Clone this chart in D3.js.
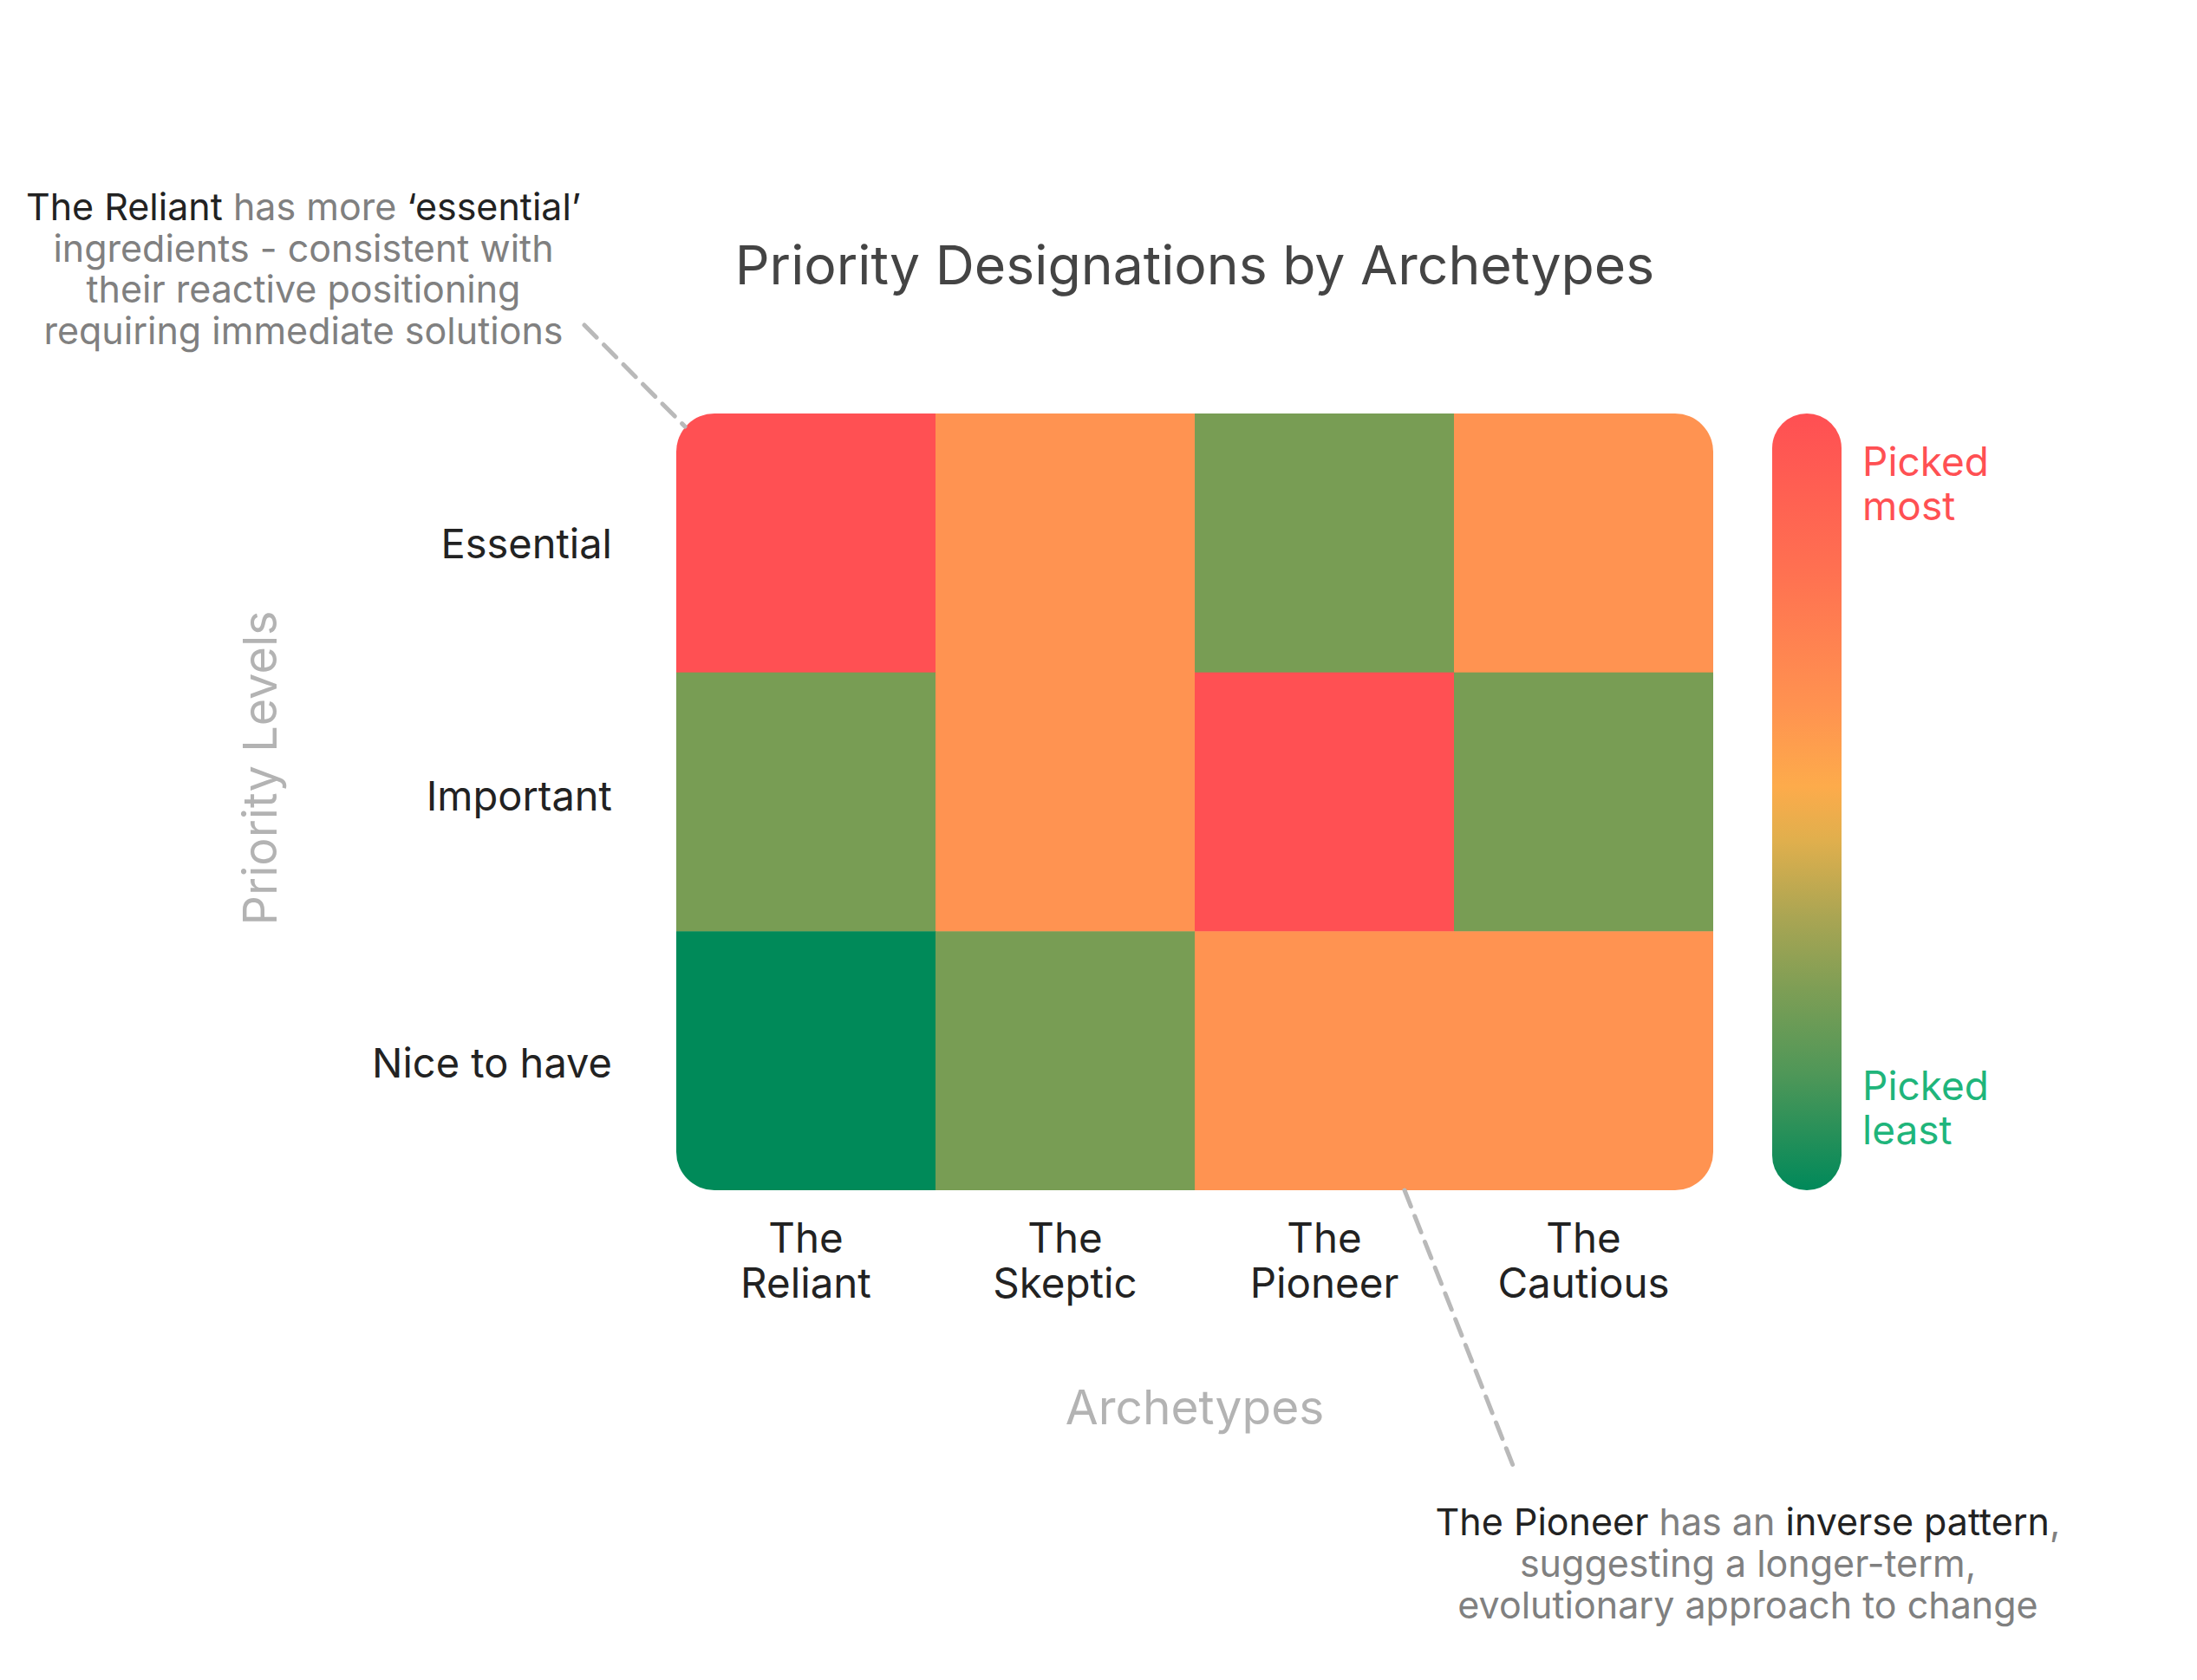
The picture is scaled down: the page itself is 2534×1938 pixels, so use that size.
<!DOCTYPE html>
<html>
<head>
<meta charset="utf-8">
<script src="https://cdn.jsdelivr.net/npm/d3@7"></script>
<style>
  html, body { margin: 0; padding: 0; background: #ffffff; }
  svg { display: block; font-family: Inter, "Noto Sans", sans-serif; }
</style>
</head>
<body>
<svg id="chart" width="2534" height="1938"></svg>
<script>
// ---- data ----
const archetypes = ["The Reliant", "The Skeptic", "The Pioneer", "The Cautious"];
const priorityLevels = ["Essential", "Important", "Nice to have"];
// pick level per cell (3 = picked most ... 0 = picked least), rows follow priorityLevels
const essentialValues   = [3, 2, 1, 2];
const importantValues   = [1, 2, 3, 1];
const niceToHaveValues  = [0, 1, 2, 2];
const levelColors = ["#008a59", "#789d54", "#ff9351", "#ff5053"];
const legendStops = [
  { offset: 0.00, color: "#ff4f53" },
  { offset: 0.20, color: "#ff7051" },
  { offset: 0.38, color: "#ff9350" },
  { offset: 0.48, color: "#fdab4b" },
  { offset: 0.55, color: "#e0af4d" },
  { offset: 0.65, color: "#a9a553" },
  { offset: 0.74, color: "#7e9e55" },
  { offset: 0.85, color: "#4f9758" },
  { offset: 1.00, color: "#00895a" }
];
const titleText = "Priority Designations by Archetypes";
const xTitle = "Archetypes";
const yTitle = "Priority Levels";
const legendTop = ["Picked", "most"];
const legendBottom = ["Picked", "least"];
const note1 = [
  [["The Reliant", "dark"], [" has more ", "gray"], ["‘essential’", "dark"]],
  [["ingredients - consistent with", "gray"]],
  [["their reactive positioning", "gray"]],
  [["requiring immediate solutions", "gray"]]
];
const note2 = [
  [["The Pioneer", "dark"], [" has an ", "gray"], ["inverse pattern", "dark"], [",", "gray"]],
  [["suggesting a longer-term,", "gray"]],
  [["evolutionary approach to change", "gray"]]
];

const rowsData = [essentialValues, importantValues, niceToHaveValues];
const cells = [];
priorityLevels.forEach((p, i) => {
  archetypes.forEach((a, j) => cells.push({ level: p, arch: a, value: rowsData[i][j] }));
});

// ---- layout ----
const svg = d3.select("#chart");
const hmLeft = 780, hmRight = 1976, hmTop = 477, hmBottom = 1373;
const x = d3.scaleBand().domain(archetypes).range([hmLeft, hmRight]).padding(0);
const y = d3.scaleBand().domain(priorityLevels).range([hmTop, hmBottom]).padding(0);
const color = d3.scaleOrdinal().domain([0, 1, 2, 3]).range(levelColors);
const textColors = { dark: "#222222", gray: "#808080" };
const yLabelShift = { "Essential": 18, "Important": 10, "Nice to have": 19 };

const defs = svg.append("defs");
defs.append("clipPath").attr("id", "hmclip")
  .append("rect").attr("x", hmLeft).attr("y", hmTop)
  .attr("width", hmRight - hmLeft).attr("height", hmBottom - hmTop).attr("rx", 44).attr("ry", 44);

const grad = defs.append("linearGradient").attr("id", "legendGrad")
  .attr("x1", 0).attr("y1", 0).attr("x2", 0).attr("y2", 1);
grad.selectAll("stop").data(legendStops).join("stop")
  .attr("offset", d => d.offset).attr("stop-color", d => d.color);

// title
svg.append("text").attr("x", (hmLeft + hmRight) / 2).attr("y", 328)
  .attr("text-anchor", "middle").attr("font-size", 62.5).attr("fill", "#444444")
  .text(titleText);

// heatmap
svg.append("g").attr("clip-path", "url(#hmclip)")
  .selectAll("rect").data(cells).join("rect")
  .attr("x", d => x(d.arch)).attr("y", d => y(d.level))
  .attr("width", x.bandwidth() + 0.5).attr("height", y.bandwidth() + 0.5)
  .attr("fill", d => color(d.value));

// y axis labels
svg.append("g").selectAll("text").data(priorityLevels).join("text")
  .attr("x", 706).attr("y", d => y(d) + y.bandwidth() / 2 + yLabelShift[d])
  .attr("text-anchor", "end").attr("font-size", 47).attr("fill", "#222222")
  .text(d => d);

// x axis labels
const xl = svg.append("g").selectAll("text").data(archetypes).join("text")
  .attr("text-anchor", "middle").attr("font-size", 47.5).attr("fill", "#222222");
xl.each(function(d) {
  const parts = d.split(" ");
  const t = d3.select(this);
  const cx = x(d) + x.bandwidth() / 2;
  t.append("tspan").attr("x", cx).attr("y", 1445).text(parts[0]);
  t.append("tspan").attr("x", cx).attr("y", 1497).text(parts.slice(1).join(" "));
});

// axis titles
svg.append("text").attr("x", (hmLeft + hmRight) / 2).attr("y", 1643)
  .attr("text-anchor", "middle").attr("font-size", 55).attr("fill", "#b3b3b3").text(xTitle);
svg.append("text").attr("transform", "translate(319,886) rotate(-90)")
  .attr("text-anchor", "middle").attr("font-size", 54).attr("fill", "#b3b3b3").text(yTitle);

// legend
svg.append("rect").attr("x", 2044).attr("y", hmTop).attr("width", 80).attr("height", hmBottom - hmTop)
  .attr("rx", 40).attr("ry", 40).attr("fill", "url(#legendGrad)");
const lt = svg.append("text").attr("font-size", 46).attr("fill", "#ff5053");
legendTop.forEach((s, i) => lt.append("tspan").attr("x", 2148).attr("y", 549 + i * 51).text(s));
const lb = svg.append("text").attr("font-size", 46).attr("fill", "#1fb57b");
legendBottom.forEach((s, i) => lb.append("tspan").attr("x", 2148).attr("y", 1269 + i * 51).text(s));

// dashed leader lines
const line = d3.line();
svg.append("path").attr("d", line([[674, 375], [790, 492]]))
  .attr("stroke", "#b9b9b9").attr("stroke-width", 5).attr("stroke-dasharray", "20,12")
  .attr("stroke-linecap", "round").attr("fill", "none");
svg.append("path").attr("d", line([[1620, 1373], [1748, 1698]]))
  .attr("stroke", "#b9b9b9").attr("stroke-width", 5).attr("stroke-dasharray", "20,12")
  .attr("stroke-linecap", "round").attr("fill", "none");

// annotations
function note(lines, cx, y0, lh) {
  const t = svg.append("text").attr("text-anchor", "middle").attr("font-size", 43);
  lines.forEach((segs, i) => {
    const ln = t.append("tspan").attr("x", cx).attr("y", y0 + i * lh);
    segs.forEach(([s, c]) => ln.append("tspan").attr("fill", textColors[c]).text(s));
  });
}
note(note1, 350, 254, 47.7);
note(note2, 2016, 1771, 48);
</script>
</body>
</html>
